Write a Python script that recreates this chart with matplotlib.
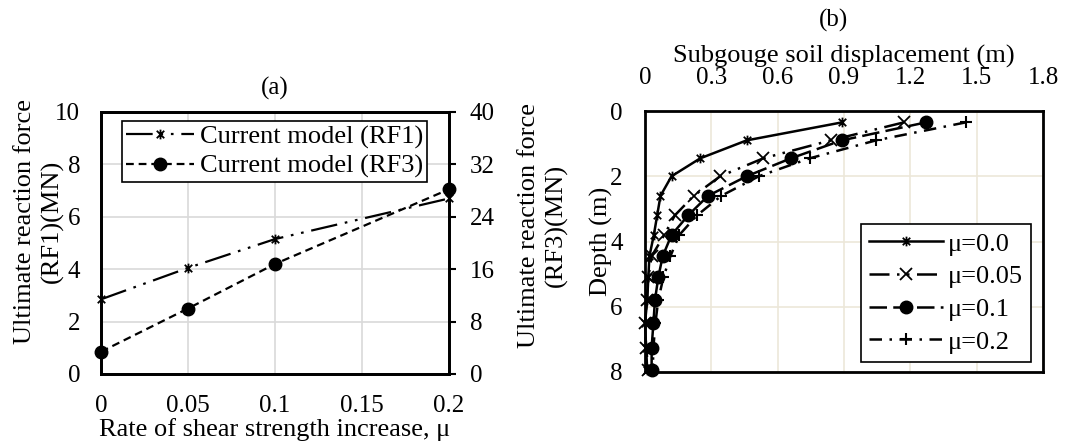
import matplotlib
matplotlib.use("Agg")
import matplotlib.pyplot as plt
from matplotlib.path import Path
import numpy as np

plt.rcParams['font.family'] = ['Liberation Serif', 'DejaVu Serif']
plt.rcParams['mathtext.fontset'] = 'stix'

# ---------------- data ----------------
mu_vals = [0.0, 0.05, 0.1, 0.2]
rf1 = [2.85, 4.05, 5.15, 6.7]        # MN, left axis
rf3 = [3.4, 10.0, 16.8, 28.2]        # MN, right axis

depth = [0.35, 0.9, 1.45, 2.0, 2.6, 3.2, 3.8, 4.45, 5.1, 5.8, 6.5, 7.25, 7.95]
disp_mu00 = [0.89, 0.46, 0.25, 0.12, 0.07, 0.055, 0.04, 0.02, 0.015, 0.01, 0.0, 0.005, 0.01]
disp_mu05 = [1.17, 0.84, 0.535, 0.34, 0.22, 0.135, 0.087, 0.03, 0.015, 0.008, 0.0, 0.005, 0.015]
disp_mu10 = [1.27, 0.89, 0.66, 0.46, 0.285, 0.195, 0.12, 0.08, 0.06, 0.045, 0.038, 0.03, 0.03]
disp_mu20 = [1.45, 1.045, 0.745, 0.515, 0.345, 0.235, 0.155, 0.115, 0.083, 0.06, 0.047, 0.038, 0.035]

xticks_a = [0, 0.05, 0.1, 0.15, 0.2]
xtick_labels_a = ['0', '0.05', '0.1', '0.15', '0.2']
yticks_a_left = [0, 2, 4, 6, 8, 10]
yticks_a_right = [0, 8, 16, 24, 32, 40]
xticks_b = [0, 0.3, 0.6, 0.9, 1.2, 1.5, 1.8]
xtick_labels_b = ['0', '0.3', '0.6', '0.9', '1.2', '1.5', '1.8']
yticks_b = [0, 2, 4, 6, 8]

# star marker (x with vertical bar)
star = Path([(-1, -1), (1, 1), (-1, 1), (1, -1), (0, -1.3), (0, 1.3)],
            [Path.MOVETO, Path.LINETO, Path.MOVETO, Path.LINETO, Path.MOVETO, Path.LINETO])

FS = 16
fig = plt.figure(figsize=(10.68, 4.47), dpi=100)

# ---------------- panel (a) ----------------
axA = fig.add_axes([101/1068, 1-374/447, 348/1068, 262/447])
axA2 = axA.twinx()
axA.set_zorder(axA2.get_zorder() - 1)
axA.patch.set_visible(True)
axA2.patch.set_visible(False)

axA.set_xlim(0, 0.2)
axA.set_ylim(0, 10)
axA2.set_ylim(0, 40)
axA.set_xticks(xticks_a)
axA.set_xticklabels(xtick_labels_a)
axA.set_yticks(yticks_a_left)
axA2.set_yticks(yticks_a_right)
axA.grid(True, color='#d9d9d9', lw=1.2)
axA.tick_params(axis='both', length=0, pad=15, labelsize=FS + 2)
axA2.tick_params(axis='y', length=5, width=1.5, direction='out', pad=10, labelsize=FS + 2)
for ax in (axA, axA2):
    for s in ax.spines.values():
        s.set_linewidth(2)

lineRF1, = axA.plot(mu_vals, rf1, color='black', lw=1.6,
                    linestyle=(0, (12, 3.5, 1.2, 3.5, 1.2, 3.5)),
                    marker=star, markersize=7, markeredgewidth=1.3,
                    label='Current model (RF1)', clip_on=False, zorder=5)
lineRF3, = axA2.plot(mu_vals, rf3, color='black', lw=1.6,
                     linestyle=(0, (3.5, 2.2)), marker='o', markersize=9,
                     label='Current model (RF3)', clip_on=False, zorder=5)

leg = axA2.legend(handles=[lineRF1, lineRF3], loc='upper left',
                  bbox_to_anchor=(0.06, 0.965), fontsize=FS + 3, frameon=True,
                  fancybox=False, edgecolor='black', framealpha=1,
                  handlelength=2.6, handletextpad=0.2, borderpad=0.15,
                  labelspacing=0.2, borderaxespad=0)
leg.get_frame().set_linewidth(1.2)

fig.text(275/1068, 1-88/447, '(a)', ha='center', va='center', fontsize=FS + 2)
fig.text(275/1068, 1-430/447, 'Rate of shear strength increase, μ', ha='center',
         va='center', fontsize=FS + 3)
fig.text(39/1068, 1-221/447, 'Ultimate reaction force\n(RF1)(MN)', rotation=90,
         ha='center', va='center', rotation_mode='anchor', fontsize=FS + 3,
         linespacing=1.25)
fig.text(543/1068, 1-225/447, 'Ultimate reaction force\n(RF3)(MN)', rotation=90,
         ha='center', va='center', rotation_mode='anchor', fontsize=FS + 3,
         linespacing=1.25)

# ---------------- panel (b) ----------------
axB = fig.add_axes([645/1068, 1-372/447, 398/1068, 261/447])
axB.set_xlim(0, 1.8)
axB.set_ylim(8, 0)
axB.xaxis.tick_top()
axB.xaxis.set_label_position('top')
axB.set_xticks(xticks_b)
axB.set_xticklabels(xtick_labels_b)
axB.set_yticks(yticks_b)
axB.grid(True, color='#ece7d9', lw=1.2)
axB.tick_params(axis='both', length=0, labelsize=FS + 2)
axB.tick_params(axis='x', pad=16)
axB.tick_params(axis='y', pad=16)
for s in axB.spines.values():
    s.set_linewidth(2)

axB.plot(disp_mu00, depth, color='black', lw=1.8, linestyle='-',
         marker=star, markersize=7, markeredgewidth=1.3, label='μ=0.0', clip_on=False)
axB.plot(disp_mu05, depth, color='black', lw=1.8,
         linestyle=(0, (8, 3, 1, 3, 1, 3)), marker='x', markersize=8,
         markeredgewidth=1.3, label='μ=0.05', clip_on=False)
axB.plot(disp_mu10, depth, color='black', lw=1.8, linestyle=(0, (7, 2.5)),
         marker='o', markersize=9, label='μ=0.1', clip_on=False)
axB.plot(disp_mu20, depth, color='black', lw=1.8, linestyle=(0, (5, 3, 1, 3)),
         marker='+', markersize=9, markeredgewidth=1.5, label='μ=0.2', clip_on=False)

legB = axB.legend(loc='lower right', bbox_to_anchor=(0.97, 0.04), fontsize=FS + 3,
                  frameon=True, fancybox=False, edgecolor='black', framealpha=1,
                  handlelength=2.8, handletextpad=0.2, borderpad=0.3,
                  labelspacing=0.35, borderaxespad=0)
legB.get_frame().set_linewidth(1.2)

axB.set_xlabel('Subgouge soil displacement (m)', fontsize=FS + 3, labelpad=3)
axB.set_ylabel('Depth (m)', fontsize=FS + 3, labelpad=-2)
fig.text(833/1068, 1-20/447, '(b)', ha='center', va='center', fontsize=FS + 2)

fig.savefig('out.png', dpi=100)
